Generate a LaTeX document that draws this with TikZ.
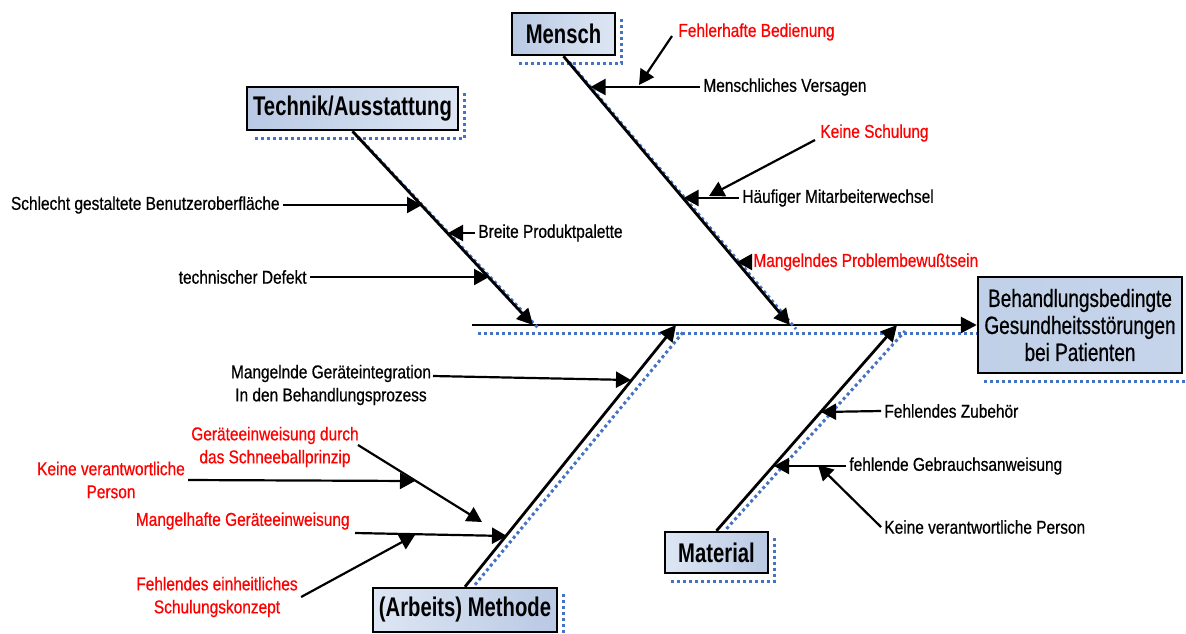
\documentclass[tikz,border=0pt]{standalone}
\usepackage{fontspec}
\setmainfont{Liberation Sans}
\newfontfamily\lblfont{Liberation Sans}[FakeStretch=0.83,FakeBold=0.6]
\newfontfamily\catfont{Liberation Sans}[FakeStretch=0.75]
\newfontfamily\effont{Liberation Sans}[FakeStretch=0.76,FakeBold=0.6]
\usetikzlibrary{arrows.meta,calc}
\definecolor{shblue}{HTML}{4472C4}
\definecolor{boxdark}{HTML}{B9C9E4}
\definecolor{boxlight}{HTML}{DDE6F3}
\definecolor{boxmid}{HTML}{C0D0E8}
\tikzset{
  lbl/.style={font=\lblfont\fontsize{9.3}{11.5}\selectfont, inner sep=1.5pt, align=center},
  redlbl/.style={lbl, text=red},
  catbox/.style={draw=black, line width=1.25pt, inner sep=0pt,
    font=\catfont\bfseries\fontsize{13.5}{15}\selectfont},
  bone/.style={line width=1.4pt, -{Triangle[length=8pt,width=8pt]}},
  sub/.style={line width=1.1pt, -{Triangle[length=7.5pt,width=8pt]}},
  shadowline/.style={shblue, line width=1.5pt, dash pattern=on 1.5pt off 1.5pt},
}
\begin{document}
\begin{tikzpicture}[x=0.5pt,y=-0.5pt]
\useasboundingbox (0,0) rectangle (1186,633);

% ---------- boxes ----------
\node[catbox, left color=boxdark, right color=boxlight, minimum width=51.5pt, minimum height=21pt]
  (mensch) at (563.5,34) {Mensch};
\node[catbox, left color=boxdark, right color=boxlight, minimum width=105.5pt, minimum height=21.5pt]
  (technik) at (352.5,108.5) {Technik/Ausstattung};
\node[catbox, left color=boxlight, right color=boxdark, minimum width=92pt, minimum height=22pt]
  (methode) at (465,610) {(Arbeits) Methode};
\node[catbox, left color=boxlight, right color=boxdark, minimum width=51.5pt, minimum height=20.5pt]
  (material) at (716.5,552.5) {Material};
\node[draw=black, line width=1.25pt, inner sep=0pt, left color=boxmid, right color=boxmid!90!white,
  minimum width=102pt, minimum height=48pt, align=center,
  font=\effont\fontsize{12.5}{13.5}\selectfont]
  (effect) at (1080,325) {Behandlungsbedingte\\Gesundheitsstörungen\\bei Patienten};

% box shadows
\foreach \b in {mensch,technik,methode,material,effect}{
  \draw[shadowline] ($(\b.north east)+(5,7)$) -- ($(\b.south east)+(5,7)$) -- ($(\b.south west)+(6,7)$);
}

% ---------- spine ----------
\coordinate (spine0) at (472,325);
\coordinate (tE) at (533,325);
\coordinate (aE) at (676,325);
\coordinate (mE) at (790,325);
\coordinate (matE) at (897,325);
\draw[shadowline] (478,333) -- ($(effect.west)+(0,8)$);
\draw[bone] (spine0) -- (effect.west);

% ---------- bones ----------
\draw[shadowline] ($(mensch.south)+(6,6)$) -- ($(mE)+(6,4)$);
\draw[shadowline] ($(technik.south)+(6,6)$) -- ($(tE)+(6,4)$);
\draw[shadowline] ($(methode.north)+(10,-2)$) -- ($(aE)+(8,6)$);
\draw[shadowline] ($(material.north)+(10,-2)$) -- ($(matE)+(8,6)$);
\draw[bone] (mensch.south) -- (mE);
\draw[bone] (technik.south) -- (tE);
\draw[bone] (methode.north) -- (aE);
\draw[bone] (material.north) -- (matE);

% ---------- Mensch ----------
\node[redlbl, anchor=west] (fehler) at (675,32) {Fehlerhafte Bedienung};
\node[lbl, anchor=west] (versagen) at (700,87) {Menschliches Versagen};
\node[redlbl, anchor=west] (schulung) at (817,133) {Keine Schulung};
\node[lbl, anchor=west] (wechsel) at (739,198) {Häufiger Mitarbeiterwechsel};
\node[redlbl, anchor=west] (problem) at (750,262) {Mangelndes Problembewußtsein};
\coordinate (m1) at (590.5,87);
\coordinate (m2) at (683.5,198);
\coordinate (m3) at (737,262);
\coordinate (f0) at (672,36);
\coordinate (f1) at (639,85);
\coordinate (s0) at (815,140);
\coordinate (s1) at (709,196);
\draw[sub] (versagen.west) -- (m1);
\draw[sub] (f0) -- (f1);
\draw[sub] (wechsel.west) -- (m2);
\draw[sub] (s0) -- (s1);
\draw[sub] (problem.west) -- (m3);

% ---------- Technik ----------
\node[lbl, anchor=east] (schlecht) at (283,205) {Schlecht gestaltete Benutzeroberfläche};
\node[lbl, anchor=west] (breite) at (475,233) {Breite Produktpalette};
\node[lbl, anchor=east] (defekt) at (310,277) {technischer Defekt};
\coordinate (t1) at (422,205);
\coordinate (t2) at (448,233);
\coordinate (t3) at (489,277);
\draw[sub] (schlecht.east) -- (t1);
\draw[sub] (breite.west) -- (t2);
\draw[sub] (defekt.east) -- (t3);

% ---------- Methode ----------
\node[lbl] (integration) at (331,385) {Mangelnde Geräteintegration\\In den Behandlungsprozess};
\node[redlbl] (schneeball) at (275,447) {Geräteeinweisung durch\\das Schneeballprinzip};
\node[redlbl] (keine1) at (111,480) {Keine verantwortliche\\Person};
\node[redlbl, anchor=east] (mangelhaft) at (353,521) {Mangelhafte Geräteeinweisung};
\node[redlbl] (konzept) at (217,597) {Fehlendes einheitliches\\Schulungskonzept};
\coordinate (i0) at (433,376);
\coordinate (a1) at (631,380);
\coordinate (sb0) at (358,445);
\coordinate (sb1) at (482,522);
\coordinate (kp1) at (415,481);
\coordinate (mh0) at (355,533);
\coordinate (a2) at (507,536);
\coordinate (ko1) at (415,535);
\draw[sub] (i0) -- (a1);
\draw[sub] (sb0) -- (sb1);
\draw[sub] (keine1.east) -- (kp1);
\draw[sub] (mh0) -- (a2);
\draw[sub] (konzept.east) -- (ko1);

% ---------- Material ----------
\node[lbl, anchor=west] (zubehoer) at (881,411) {Fehlendes Zubehör};
\node[lbl, anchor=west] (gebrauch) at (846,466) {fehlende Gebrauchsanweisung};
\node[lbl, anchor=west] (keine2) at (881,527) {Keine verantwortliche Person};
\coordinate (r1) at (821,412);
\coordinate (r2) at (774,466);
\coordinate (r3) at (818,465);
\draw[sub] (zubehoer.west) -- (r1);
\draw[sub] (gebrauch.west) -- (r2);
\draw[sub] (keine2.west) -- (r3);
\end{tikzpicture}
\end{document}
